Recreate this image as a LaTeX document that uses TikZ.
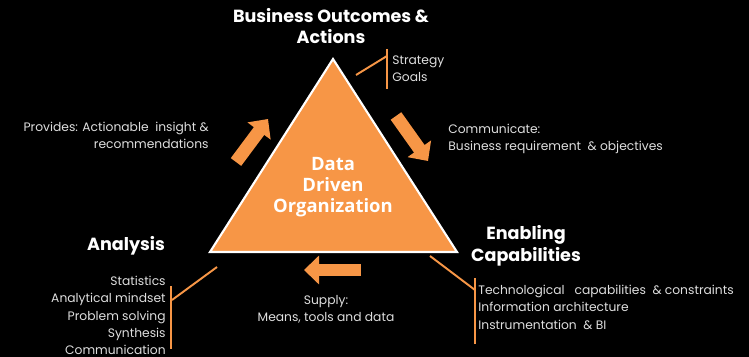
\documentclass[tikz,border=0pt]{standalone}
\usepackage{fontspec}
\setmainfont{Poppins}
\newfontfamily\coreface{Open Sans}
\usetikzlibrary{arrows.meta, positioning}
\definecolor{ddorange}{RGB}{247, 150, 70}
\definecolor{softwhite}{RGB}{222, 222, 222}

\begin{document}
\begin{tikzpicture}[
    x=0.02cm, y=-0.02cm,
    hdr/.style={font=\bfseries\fontsize{10}{12.4}\selectfont,
                text=white, align=center, inner sep=0pt},
    core/.style={font=\coreface\bfseries\fontsize{10.5}{11.8}\selectfont,
                 text=white, align=center, inner sep=0pt},
    txt/.style={font=\fontsize{7}{9.8}\selectfont,
                text=softwhite, inner sep=0pt},
    brk/.style={draw=ddorange, line width=1.1pt},
    flowarr/.style={ddorange, line width=0.26cm,
                    -{Triangle[length=0.3cm, width=0.56cm]}},
]

% -- Background ------------------------------
\fill[black] (0,0) rectangle (749,357);
\useasboundingbox (0,0) rectangle (749,357);

% -- Triangle --------------------------------
\coordinate (apex) at (333,59);
\coordinate (bl)   at (210,252);
\coordinate (br)   at (457,252);
\filldraw[fill=ddorange, draw=white, line width=1.2pt]
    (apex) -- (bl) -- (br) -- cycle;
\node[core] (ddo) at (333,187) {Data\\Driven\\Organization};

% -- Corner headings -------------------------
\node[hdr] (outc) at (331,26)  {Business Outcomes \&\\Actions};
\node[hdr] (anal) at (126,246) {Analysis};
\node[hdr] (enab) at (526,246) {Enabling\\Capabilities};

% -- Lists beside the corners ----------------
\node[txt, align=left, anchor=west]
    (strat) at (392,69) {Strategy\\Goals};
\node[txt, align=right, anchor=north east]
    (skills) at (166,276)
    {Statistics\\Analytical mindset\\Problem solving\\Synthesis\\Communication};
\node[txt, align=left, anchor=north west]
    (tech) at (478,285)
    {Technological~~ capabilities~ \& constraints\\Information architecture\\Instrumentation~ \& BI};

% -- Flow labels -----------------------------
\node[txt, align=right, anchor=east]
    (prov) at (209,135)
    {Provides: Actionable~ insight \&\\recommendations};
\node[txt, align=left, anchor=west]
    (comm) at (448,139)
    {Communicate:\\Business requirement~ \& objectives};
\node[txt, align=center]
    (supp) at (326,309)
    {Supply:\\Means, tools and data};

% -- Brackets --------------------------------
\coordinate (sb-top) at (387,49);
\coordinate (sb-bot) at (387,89);
\coordinate (sb-tie) at (387,56);
\coordinate (sb-end) at (356,75);
\draw[brk] (sb-top) -- (sb-bot);
\draw[brk] (sb-end) -- (sb-tie);

\coordinate (ab-top) at (171,286);
\coordinate (ab-bot) at (171,349);
\coordinate (ab-tie) at (172,300);
\coordinate (ab-end) at (217,267);
\draw[brk] (ab-top) -- (ab-bot);
\draw[brk] (ab-end) -- (ab-tie);

\coordinate (eb-top) at (475,278);
\coordinate (eb-bot) at (475,344);
\coordinate (eb-tie) at (475,290);
\coordinate (eb-end) at (430,256);
\draw[brk] (eb-top) -- (eb-bot);
\draw[brk] (eb-end) -- (eb-tie);

% -- Flow arrows -----------------------------
\coordinate (a1s) at (236,162);
\coordinate (a1e) at (268,119);
\coordinate (a2s) at (396,116);
\coordinate (a2e) at (428,161);
\coordinate (a3s) at (361,270);
\coordinate (a3e) at (304,270);
\draw[flowarr] (a1s) -- (a1e);
\draw[flowarr] (a2s) -- (a2e);
\draw[flowarr] (a3s) -- (a3e);

\end{tikzpicture}
\end{document}
